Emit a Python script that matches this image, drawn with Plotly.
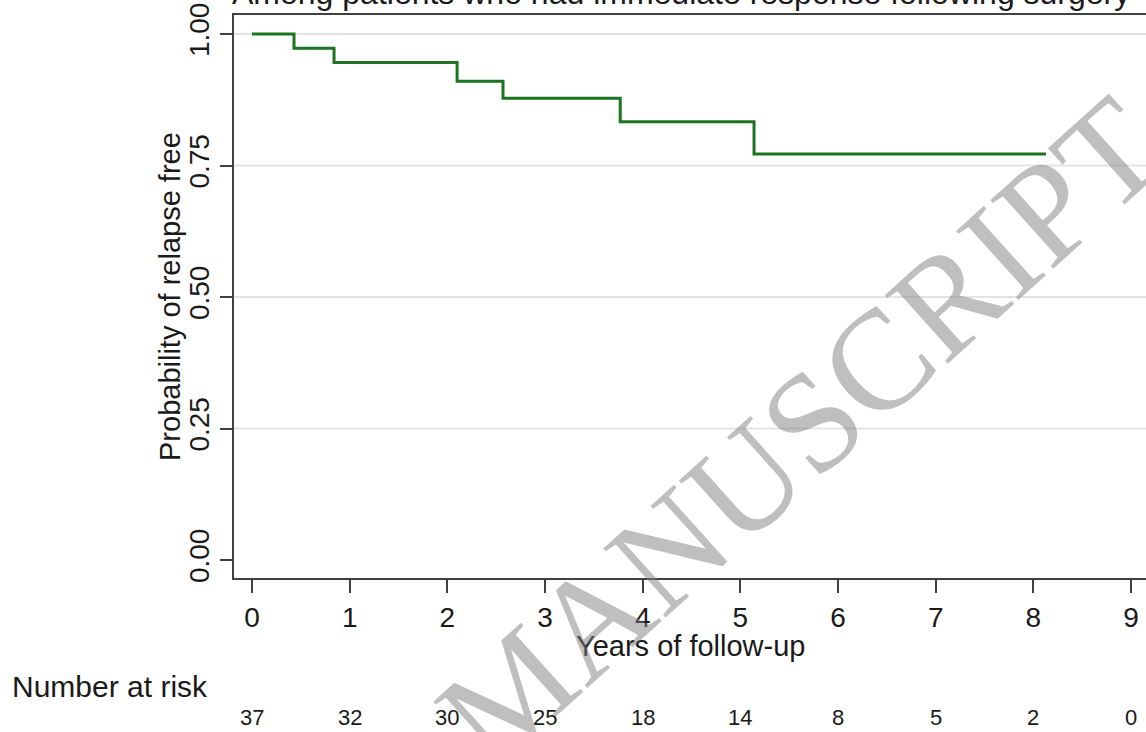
import plotly.graph_objects as go

# Kaplan-Meier step data
event_times = [0, 0.43, 0.84, 2.10, 2.57, 3.77, 5.14, 8.13]
survival = [1.0, 0.973, 0.946, 0.910, 0.878, 0.833, 0.772, 0.772]

# axis ticks
x_ticks = [0, 1, 2, 3, 4, 5, 6, 7, 8, 9]
y_ticks = [0.0, 0.25, 0.5, 0.75, 1.0]
y_tick_labels = ["0.00", "0.25", "0.50", "0.75", "1.00"]
y_grid = [0.25, 0.5, 0.75, 1.0]

# number at risk table
risk_times = [0, 1, 2, 3, 4, 5, 6, 7, 8, 9]
risk_counts = [37, 32, 30, 25, 18, 14, 8, 5, 2, 0]

title_text = "Among patients who had immediate response following surgery"
x_title = "Years of follow-up"
y_title = "Probability of relapse free"
watermark_text = "MANUSCRIPT"

W, H = 1146, 732
L, R, T, B = 234, 0, 15, 154
plot_w = W - L - R
plot_h = H - T - B

def px_to_paper_x(px):
    return (px - L) / plot_w

def px_to_paper_y(py):
    return (H - B - py) / plot_h

FONT = "Liberation Sans, Arial, sans-serif"
TXT = "#1a1a1a"
AX = "#404040"

fig = go.Figure()
fig.add_trace(go.Scatter(
    x=event_times, y=survival, mode="lines", line=dict(shape="hv", color="#1d7420", width=3),
    showlegend=False, hoverinfo="skip"))

shapes = []
for g in y_grid:
    shapes.append(dict(type="line", xref="paper", yref="y", x0=0, x1=1, y0=g, y1=g,
                       line=dict(color="#e3e3e3", width=2), layer="below"))

annotations = []
annotations.append(dict(text=title_text, xref="paper", yref="paper",
                        x=px_to_paper_x(681), y=px_to_paper_y(-7), xanchor="center", yanchor="middle",
                        showarrow=False, font=dict(family=FONT, size=32, color=TXT)))
annotations.append(dict(text=x_title, xref="paper", yref="paper",
                        x=0.5, y=px_to_paper_y(646), xanchor="center", yanchor="middle",
                        showarrow=False, font=dict(family=FONT, size=29, color=TXT)))
annotations.append(dict(text=y_title, xref="paper", yref="y",
                        x=px_to_paper_x(170), y=0.5, xanchor="center", yanchor="middle",
                        textangle=-90, showarrow=False, font=dict(family=FONT, size=29, color=TXT)))
annotations.append(dict(text="Number at risk", xref="paper", yref="paper",
                        x=px_to_paper_x(10), y=px_to_paper_y(686), xanchor="left", yanchor="middle",
                        showarrow=False, font=dict(family=FONT, size=30, color=TXT)))
for t, n in zip(risk_times, risk_counts):
    annotations.append(dict(text=str(n), xref="x", yref="paper", x=t, y=px_to_paper_y(717),
                            xanchor="center", yanchor="middle", showarrow=False,
                            font=dict(family=FONT, size=22, color=TXT)))
annotations.append(dict(text=watermark_text, xref="paper", yref="paper",
                        x=px_to_paper_x(800), y=px_to_paper_y(432), xanchor="center", yanchor="middle",
                        textangle=-42, showarrow=False,
                        font=dict(family="Liberation Serif, Times New Roman, serif", size=142,
                                  color="rgba(128,128,128,0.5)")))

x0 = 252
xs = 97.67
fig.update_layout(
    width=W, height=H,
    margin=dict(l=L, r=R, t=T, b=B, autoexpand=False),
    plot_bgcolor="white", paper_bgcolor="white",
    shapes=shapes, annotations=annotations,
    xaxis=dict(range=[(L - x0) / xs, (W - R - x0) / xs], tickvals=x_ticks,
               showgrid=False, zeroline=False, showline=True, linecolor=AX, linewidth=2,
               mirror=True, ticks="outside", ticklen=13, tickwidth=2, tickcolor=AX,
               tickfont=dict(family=FONT, size=28, color=TXT), automargin=False),
    yaxis=dict(range=[-18 / 526, 1 + 19 / 526], tickvals=y_ticks, ticktext=y_tick_labels,
               tickangle=-90,
               showgrid=False, zeroline=False, showline=True, linecolor=AX, linewidth=2,
               ticks="outside", ticklen=12, tickwidth=2, tickcolor=AX,
               tickfont=dict(family=FONT, size=28, color=TXT), automargin=False),
)

fig.write_html("out.html", config={"displayModeBar": False},
               post_script="document.body.style.margin='0';document.body.style.overflow='hidden';")
